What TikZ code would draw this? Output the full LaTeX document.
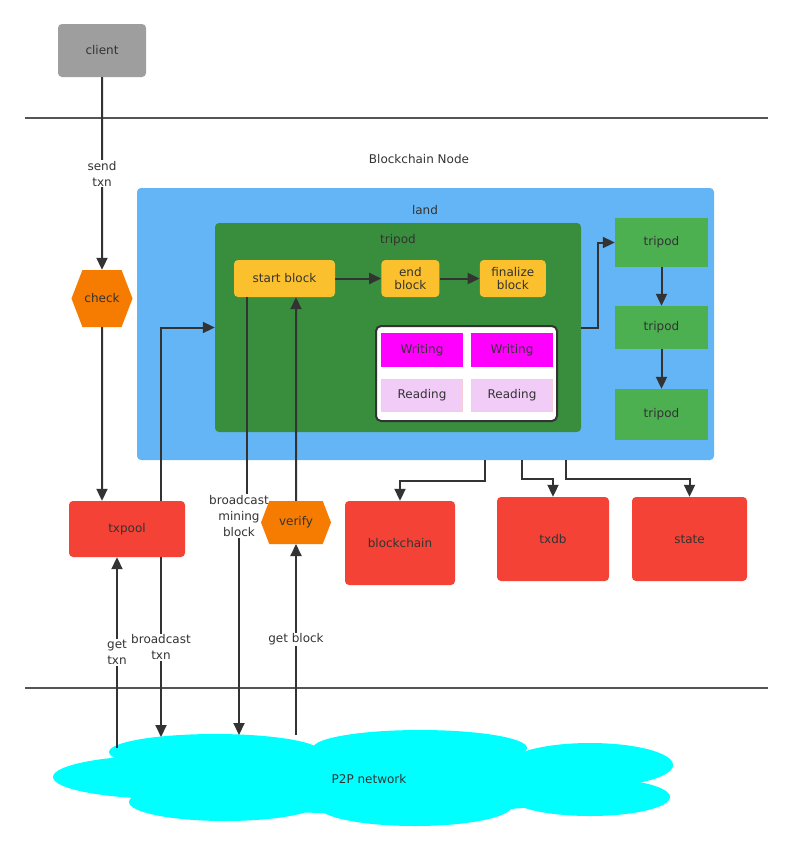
\documentclass[tikz,border=0pt]{standalone}
\usepackage{fontspec}
\setmainfont{DejaVu Sans}
\usetikzlibrary{arrows.meta,positioning,shapes.symbols}
\definecolor{ink}{HTML}{333333}
\definecolor{sepgray}{HTML}{555555}
\definecolor{clientgray}{HTML}{9E9E9E}
\definecolor{landblue}{HTML}{64B5F6}
\definecolor{tripodgreen}{HTML}{388E3C}
\definecolor{subgreen}{HTML}{4CAF50}
\definecolor{blockyellow}{HTML}{FBC02D}
\definecolor{writemag}{HTML}{FF00FF}
\definecolor{readlilac}{HTML}{F0CCF7}
\definecolor{readedge}{HTML}{F8CCD4}
\definecolor{storered}{HTML}{F44336}
\definecolor{hexorange}{HTML}{F57C00}
\definecolor{netcyan}{HTML}{00FFFF}

\begin{document}
\begin{tikzpicture}[x=1pt,y=-1pt,node distance=40pt,
    every node/.style={text=ink,font=\fontsize{12}{16}\selectfont,align=center,inner sep=2pt},
    blk/.style={fill=#1,rounded corners=4pt},
    sq/.style={fill=#1},
    hexa/.style={shape=signal,signal to=east and west,signal pointer angle=138,fill=hexorange},
    wire/.style={draw=ink,line width=2pt},
    arr/.style={wire,-{Triangle[length=12pt,width=11pt]}},
    lbl/.style={fill=white,inner sep=1pt},
    sep/.style={draw=sepgray,line width=2pt},
    puff/.style={fill=netcyan}]
    \fill[white] (0,0) rectangle (793,852);
    \useasboundingbox (0,0) rectangle (793,852);

    % layers
    \draw[sep] (25,118) -- (768,118);
    \draw[sep] (25,688) -- (768,688);

    \node[blk=clientgray, minimum width=88pt, minimum height=53pt] (client) at (102,50.5) {client};
    \node (title) at (419,159) {Blockchain Node};

    % land and tripods
    \node[blk=landblue, minimum width=577pt, minimum height=272pt] (land) at (425.5,324) {};
    \node (landtxt) at (425,210) {land};
    \node[blk=tripodgreen, minimum width=366pt, minimum height=209pt] (tripod) at (398,327.5) {};
    \node (tripodtxt) at (398,240) {tripod};
    \node[blk=blockyellow, minimum width=101pt, minimum height=37pt] (sb) at (284.5,278.5) {start block};
    \node[blk=blockyellow, minimum width=58pt, minimum height=37pt, right=46pt of sb] (eb) {end\\[-3pt]block};
    \node[blk=blockyellow, minimum width=66pt, minimum height=37pt, right=40pt of eb] (fb) {finalize\\[-3pt]block};

    \node[draw=ink, line width=2pt, fill=white, rounded corners=5pt, minimum width=181pt, minimum height=95pt] (rw) at (466.5,373.5) {};
    \node[sq=writemag, minimum width=82pt, minimum height=34pt] (w1) at (422,350) {Writing};
    \node[sq=writemag, minimum width=82pt, minimum height=34pt] (w2) at (512,350) {Writing};
    \node[sq=readlilac, draw=readedge, minimum width=81pt, minimum height=32pt] (r1) at (422,395.5) {Reading};
    \node[sq=readlilac, draw=readedge, minimum width=81pt, minimum height=32pt] (r2) at (512,395.5) {Reading};

    \node[sq=subgreen, minimum width=93pt, minimum height=49pt] (t1) at (661.5,242.5) {tripod};
    \node[sq=subgreen, minimum width=93pt, minimum height=43pt] (t2) at (661.5,327.5) {tripod};
    \node[sq=subgreen, minimum width=93pt, minimum height=51pt] (t3) at (661.5,414.5) {tripod};

    % stores
    \node[hexa, minimum width=58pt, minimum height=57pt] (check) at (102,298.5) {check};
    \node[blk=storered, minimum width=116pt, minimum height=56pt] (txpool) at (127,529) {txpool};
    \node[blk=storered, minimum width=110pt, minimum height=84pt] (bc) at (400,543) {blockchain};
    \node[blk=storered, minimum width=112pt, minimum height=84pt] (txdb) at (553,539) {txdb};
    \node[blk=storered, minimum width=115pt, minimum height=84pt] (state) at (689.5,539) {state};

    % p2p cloud
    \fill[puff] (380,780) ellipse [x radius=250pt, y radius=34pt];
    \fill[puff] (170,777) ellipse [x radius=117pt, y radius=22pt];
    \fill[puff] (215,752) ellipse [x radius=106pt, y radius=18pt];
    \fill[puff] (420,748) ellipse [x radius=107pt, y radius=18pt];
    \fill[puff] (590,765) ellipse [x radius=83pt, y radius=22pt];
    \fill[puff] (225,802) ellipse [x radius=96pt, y radius=19pt];
    \fill[puff] (415,806) ellipse [x radius=97pt, y radius=20pt];
    \fill[puff] (590,797) ellipse [x radius=80pt, y radius=19pt];
    \node (net) at (369,779) {P2P network};
    \coordinate (gt) at (117,748);
    \coordinate (bt) at (161,737);
    \coordinate (mine) at (239,735);
    \coordinate (gb) at (296,735);

    % flows
    \draw[arr] (client) -- node[lbl]{send\\txn} (check);
    \draw[arr] (check) -- (check |- txpool.north);
    \draw[arr] ([xshift=34pt]txpool.north) |- (tripod.west);
    \draw[arr] (sb) -- (eb);
    \draw[arr] (eb) -- (fb);
    \draw[arr] (tripod.east) -- ++(17,0) |- (t1.west);
    \draw[arr] (t1) -- (t2);
    \draw[arr] (t2) -- (t3);
    \draw[arr] ([xshift=59.5pt]land.south) -- ++(0,21) -| (bc.north);
    \draw[arr] ([xshift=96.5pt]land.south) -- ++(0,19) -| (txdb.north);
    \draw[arr] ([xshift=140.5pt]land.south) -- ++(0,19) -| (state.north);

    \draw[arr] (gt) -- node[lbl]{get\\txn} (gt |- txpool.south);
    \draw[arr] ([xshift=34pt]txpool.south) -- node[lbl]{broadcast\\txn} (bt);
    \draw[arr] ([xshift=-37.5pt]sb.south) -- ([xshift=-37.5pt]sb.south |- 0,516) -- (mine |- 0,516) -- (mine);
    \node[lbl] (minetxt) at (239,516) {broadcast\\mining\\block};
    \draw[arr] (gb) -- node[lbl]{get block} (gb |- 0,544);
    \node[hexa, minimum width=70pt, minimum height=43pt] (verify) at (296,522.5) {verify};
    \draw[arr] (verify) -- (verify |- sb.south);
\end{tikzpicture}
\end{document}
